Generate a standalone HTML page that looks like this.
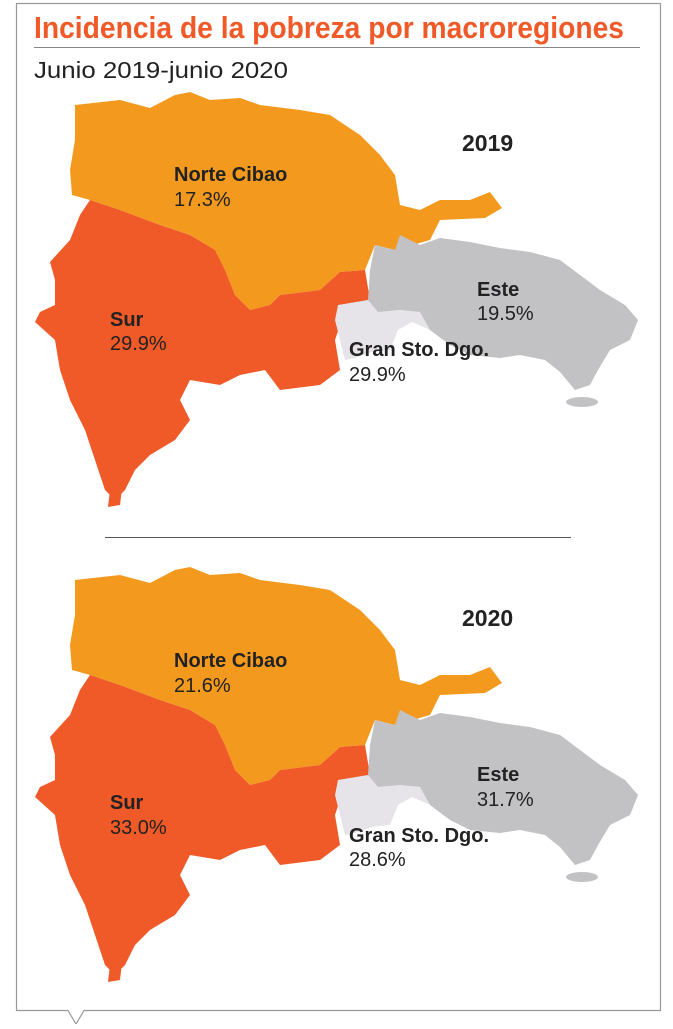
<!DOCTYPE html>
<html><head><meta charset="utf-8"><style>
body{margin:0;background:#fff;}
svg text{font-family:"Liberation Sans Narrow","Liberation Sans",sans-serif;}
</style></head><body>
<svg width="673" height="1024" viewBox="0 0 673 1024" xmlns="http://www.w3.org/2000/svg">
<path d="M16.5 3.5 H660.5 V1010.5 H84 L76 1024 L68 1010.5 H16.5 Z" fill="#fff" stroke="#999" stroke-width="1.2"/>
<text x="34" y="38" font-size="31" font-weight="bold" fill="#EF5A28" textLength="590" lengthAdjust="spacingAndGlyphs">Incidencia de la pobreza por macroregiones</text>
<line x1="34" y1="47.5" x2="640" y2="47.5" stroke="#888" stroke-width="1"/>
<text x="34" y="78" font-size="23" fill="#222" textLength="254" lengthAdjust="spacingAndGlyphs">Junio 2019-junio 2020</text>
<line x1="105" y1="537.5" x2="571" y2="537.5" stroke="#555" stroke-width="1"/>
<defs>
<g id="map">
<path fill="#F39A1E" d="M75 105 L120 100 L150 108 L175 95 L190 92 L210 100 L240 98 L260 105 L300 110 L330 115 L360 135 L380 155 L395 175 L400 205 L420 210 L440 200 L470 200 L490 192 L502 208 L485 218 L440 220 L430 240 L395 250 L375 245 L365 270 L340 272 L320 290 L280 295 L270 305 L250 310 L235 295 L225 270 L215 250 L190 235 L160 225 L120 210 L90 200 L72 195 L70 170 L75 140 Z"/>
<path fill="#EF5A28" d="M90 200 L120 210 L160 225 L190 235 L215 250 L225 270 L235 295 L250 310 L270 305 L280 295 L320 290 L340 272 L365 270 L370 300 L345 310 L335 340 L340 370 L320 385 L280 390 L265 370 L240 375 L220 385 L190 380 L180 400 L190 420 L175 440 L150 455 L135 470 L125 490 L115 500 L105 490 L95 460 L85 430 L70 400 L60 370 L55 340 L35 322 L40 312 L55 305 L55 280 L50 262 L70 240 L80 215 Z"/>
<path fill="#EF5A28" d="M110 490 L122 488 L120 505 L108 507 Z"/>
<path fill="#E6E4E8" d="M338 305 L368 300 L378 312 L400 310 L420 312 L430 330 L412 322 L398 330 L390 350 L372 352 L355 358 L345 360 L340 340 L335 320 Z"/>
<path fill="#C2C1C4" d="M370 270 L375 245 L395 250 L400 235 L420 245 L440 238 L470 242 L500 248 L530 252 L560 260 L580 275 L600 290 L625 305 L638 320 L630 340 L610 350 L598 370 L590 385 L575 390 L560 372 L545 360 L520 355 L500 358 L470 355 L450 345 L430 330 L420 312 L400 310 L378 312 L368 300 Z"/>
<ellipse cx="582" cy="402" rx="16" ry="5" fill="#C2C1C4"/>
</g>
</defs>
<use href="#map"/>
<use href="#map" transform="translate(0,475)"/>
<g font-size="20" fill="#222">
<text x="462" y="151" font-size="23" font-weight="bold">2019</text>
<text x="174" y="181" font-weight="bold">Norte Cibao</text>
<text x="174" y="206">17.3%</text>
<text x="110" y="326" font-weight="bold">Sur</text>
<text x="110" y="350">29.9%</text>
<text x="477" y="296" font-weight="bold">Este</text>
<text x="477" y="320">19.5%</text>
<text x="349" y="356" font-weight="bold">Gran Sto. Dgo.</text>
<text x="349" y="381">29.9%</text>
<text x="462" y="626" font-size="23" font-weight="bold">2020</text>
<text x="174" y="667" font-weight="bold">Norte Cibao</text>
<text x="174" y="692">21.6%</text>
<text x="110" y="809" font-weight="bold">Sur</text>
<text x="110" y="834">33.0%</text>
<text x="477" y="781" font-weight="bold">Este</text>
<text x="477" y="806">31.7%</text>
<text x="349" y="842" font-weight="bold">Gran Sto. Dgo.</text>
<text x="349" y="866">28.6%</text>
</g>
</svg>
</body></html>
